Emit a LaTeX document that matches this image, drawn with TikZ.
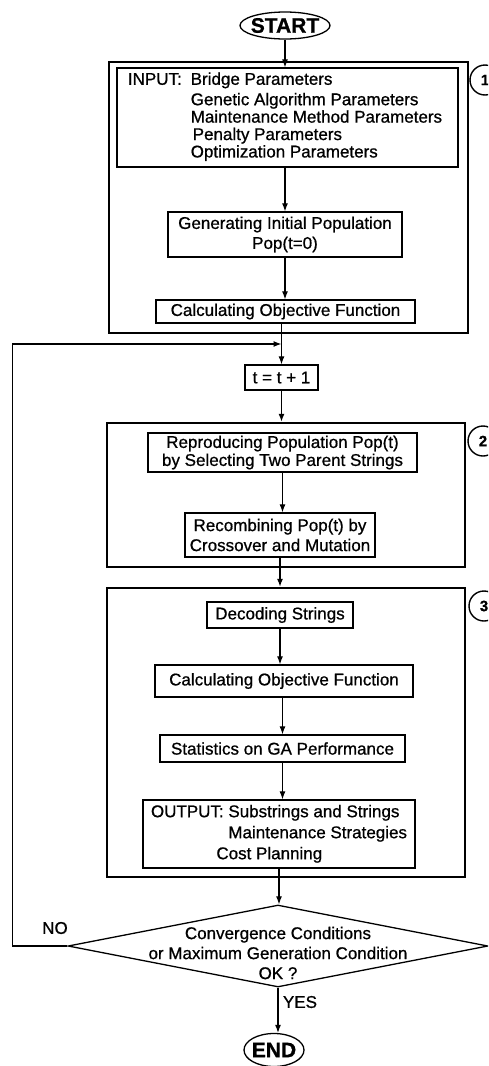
\documentclass[tikz,border=0pt]{standalone}
\usepackage{fontspec}
\setmainfont[FakeBold=0.8]{Liberation Sans}
\usetikzlibrary{shapes.geometric,arrows.meta}
\begin{document}
\begin{tikzpicture}[x=1pt,y=-1pt,
  every node/.style={font=\fontsize{17}{20}\selectfont, inner sep=0pt},
  frame/.style={draw, line width=2.4pt},
  box/.style={draw, line width=1.3pt, align=center},
  term/.style={draw, ellipse, line width=1.3pt, inner sep=0pt},
  termtext/.style={font=\fontsize{21}{21}\selectfont\bfseries},
  numc/.style={draw, circle, line width=1.4pt, minimum size=30pt, font=\fontsize{15}{15}\selectfont\bfseries},
  arr/.style={line width=1.2pt, -{Latex[length=8pt,width=6pt]}},
]
\useasboundingbox (0,0) rectangle (488,1066);
\clip (0,0) rectangle (488,1066);

% frames
\node[frame, minimum width=359pt, minimum height=271pt] (f1) at (288.5,197.5) {};
\node[frame, minimum width=358pt, minimum height=144pt] (f2) at (286,495) {};
\node[frame, minimum width=358pt, minimum height=289pt] (f3) at (286,732.5) {};

% numbered circles
\node[numc] (c1) at (485,80) {1};
\node[numc] (c2) at (483,441) {2};
\node[numc] (c3) at (484,606) {3};

% terminals
\node[term, minimum width=90pt, minimum height=27pt,
      label={[termtext]center:START}] (start) at (285,25.5) {};
\node[term, minimum width=60pt, minimum height=33pt,
      label={[termtext]center:END}] (end) at (274,1050) {};

% boxes
\node[box, minimum width=341pt, minimum height=99pt] (input) at (287.5,117.5)
  {\fontsize{17}{17}\selectfont
   \begin{tabular}{@{}l@{\hspace{9pt}}l@{}}
   \hspace{-5pt}INPUT: & Bridge Parameters\\[3pt]
          & Genetic Algorithm Parameters\\
          & Maintenance Method Parameters\\
          & \hspace{2pt}Penalty Parameters\\
          & Optimization Parameters
   \end{tabular}};
\node[box, minimum width=234pt, minimum height=45pt] (gen) at (285,234.5)
  {Generating Initial Population\\Pop(t=0)};
\node[box, minimum width=259pt, minimum height=23pt] (calc1) at (285.5,311.5)
  {Calculating Objective Function};
\node[box, minimum width=73pt, minimum height=25pt] (tbox) at (281.5,377.5)
  {t = t + 1};
\node[box, minimum width=269pt, minimum height=39pt, font=\fontsize{17}{18}\selectfont] (rep) at (282.5,452.5)
  {Reproducing Population Pop(t)\\by Selecting Two Parent Strings};
\node[box, minimum width=190pt, minimum height=44pt] (recomb) at (280,535)
  {Recombining Pop(t) by\\Crossover and Mutation};
\node[box, minimum width=146pt, minimum height=26pt] (dec) at (280,615)
  {Decoding Strings};
\node[box, minimum width=258pt, minimum height=32pt] (calc2) at (284,681)
  {Calculating Objective Function};
\node[box, minimum width=245pt, minimum height=27pt] (stats) at (282.5,748.5)
  {Statistics on GA Performance};
\node[box, minimum width=272pt, minimum height=68pt] (output) at (279,834)
  {\fontsize{17}{21}\selectfont
   \begin{tabular}{@{}l@{\hspace{4.7pt}}l@{}}
   OUTPUT: & Substrings and Strings\\
           & Maintenance Strategies\\
           & \hspace{-12pt}Cost Planning
   \end{tabular}};

% decision
\node[draw, diamond, line width=1.3pt, minimum width=420pt, minimum height=82pt,
      label={[align=center, yshift=-7pt]center:Convergence Conditions\\or Maximum Generation Condition\\OK ?}]
  (dia) at (278,946) {};

% labels
\node (no) at (55,928) {NO};
\node (yes) at (300,1002) {YES};

% connectors
\coordinate (merge) at (281.5,344);
\draw[arr] (start.south) -- (start.south |- input.north);
\draw[arr] (gen.north |- input.south) -- (gen.north);
\draw[arr] (gen.south) -- (gen.south |- calc1.north);
\draw[arr] (tbox.north |- calc1.south) -- (tbox.north);
\draw[arr] (dia.west) -- ++(-55,0) |- (merge);
\draw[arr] (tbox.south) -- (tbox.south |- f2.north);
\draw[arr] (rep.south) -- (rep.south |- recomb.north);
\draw[arr] (recomb.south) -- (recomb.south |- f3.north);
\draw[arr] (dec.south) -- (dec.south |- calc2.north);
\draw[arr] (stats.north |- calc2.south) -- (stats.north);
\draw[arr] (stats.south) -- (stats.south |- output.north);
\draw[arr] (output.south) -- (output.south |- dia.north);
\draw[arr] (dia.south) -- (dia.south |- end.north);
\end{tikzpicture}
\end{document}
